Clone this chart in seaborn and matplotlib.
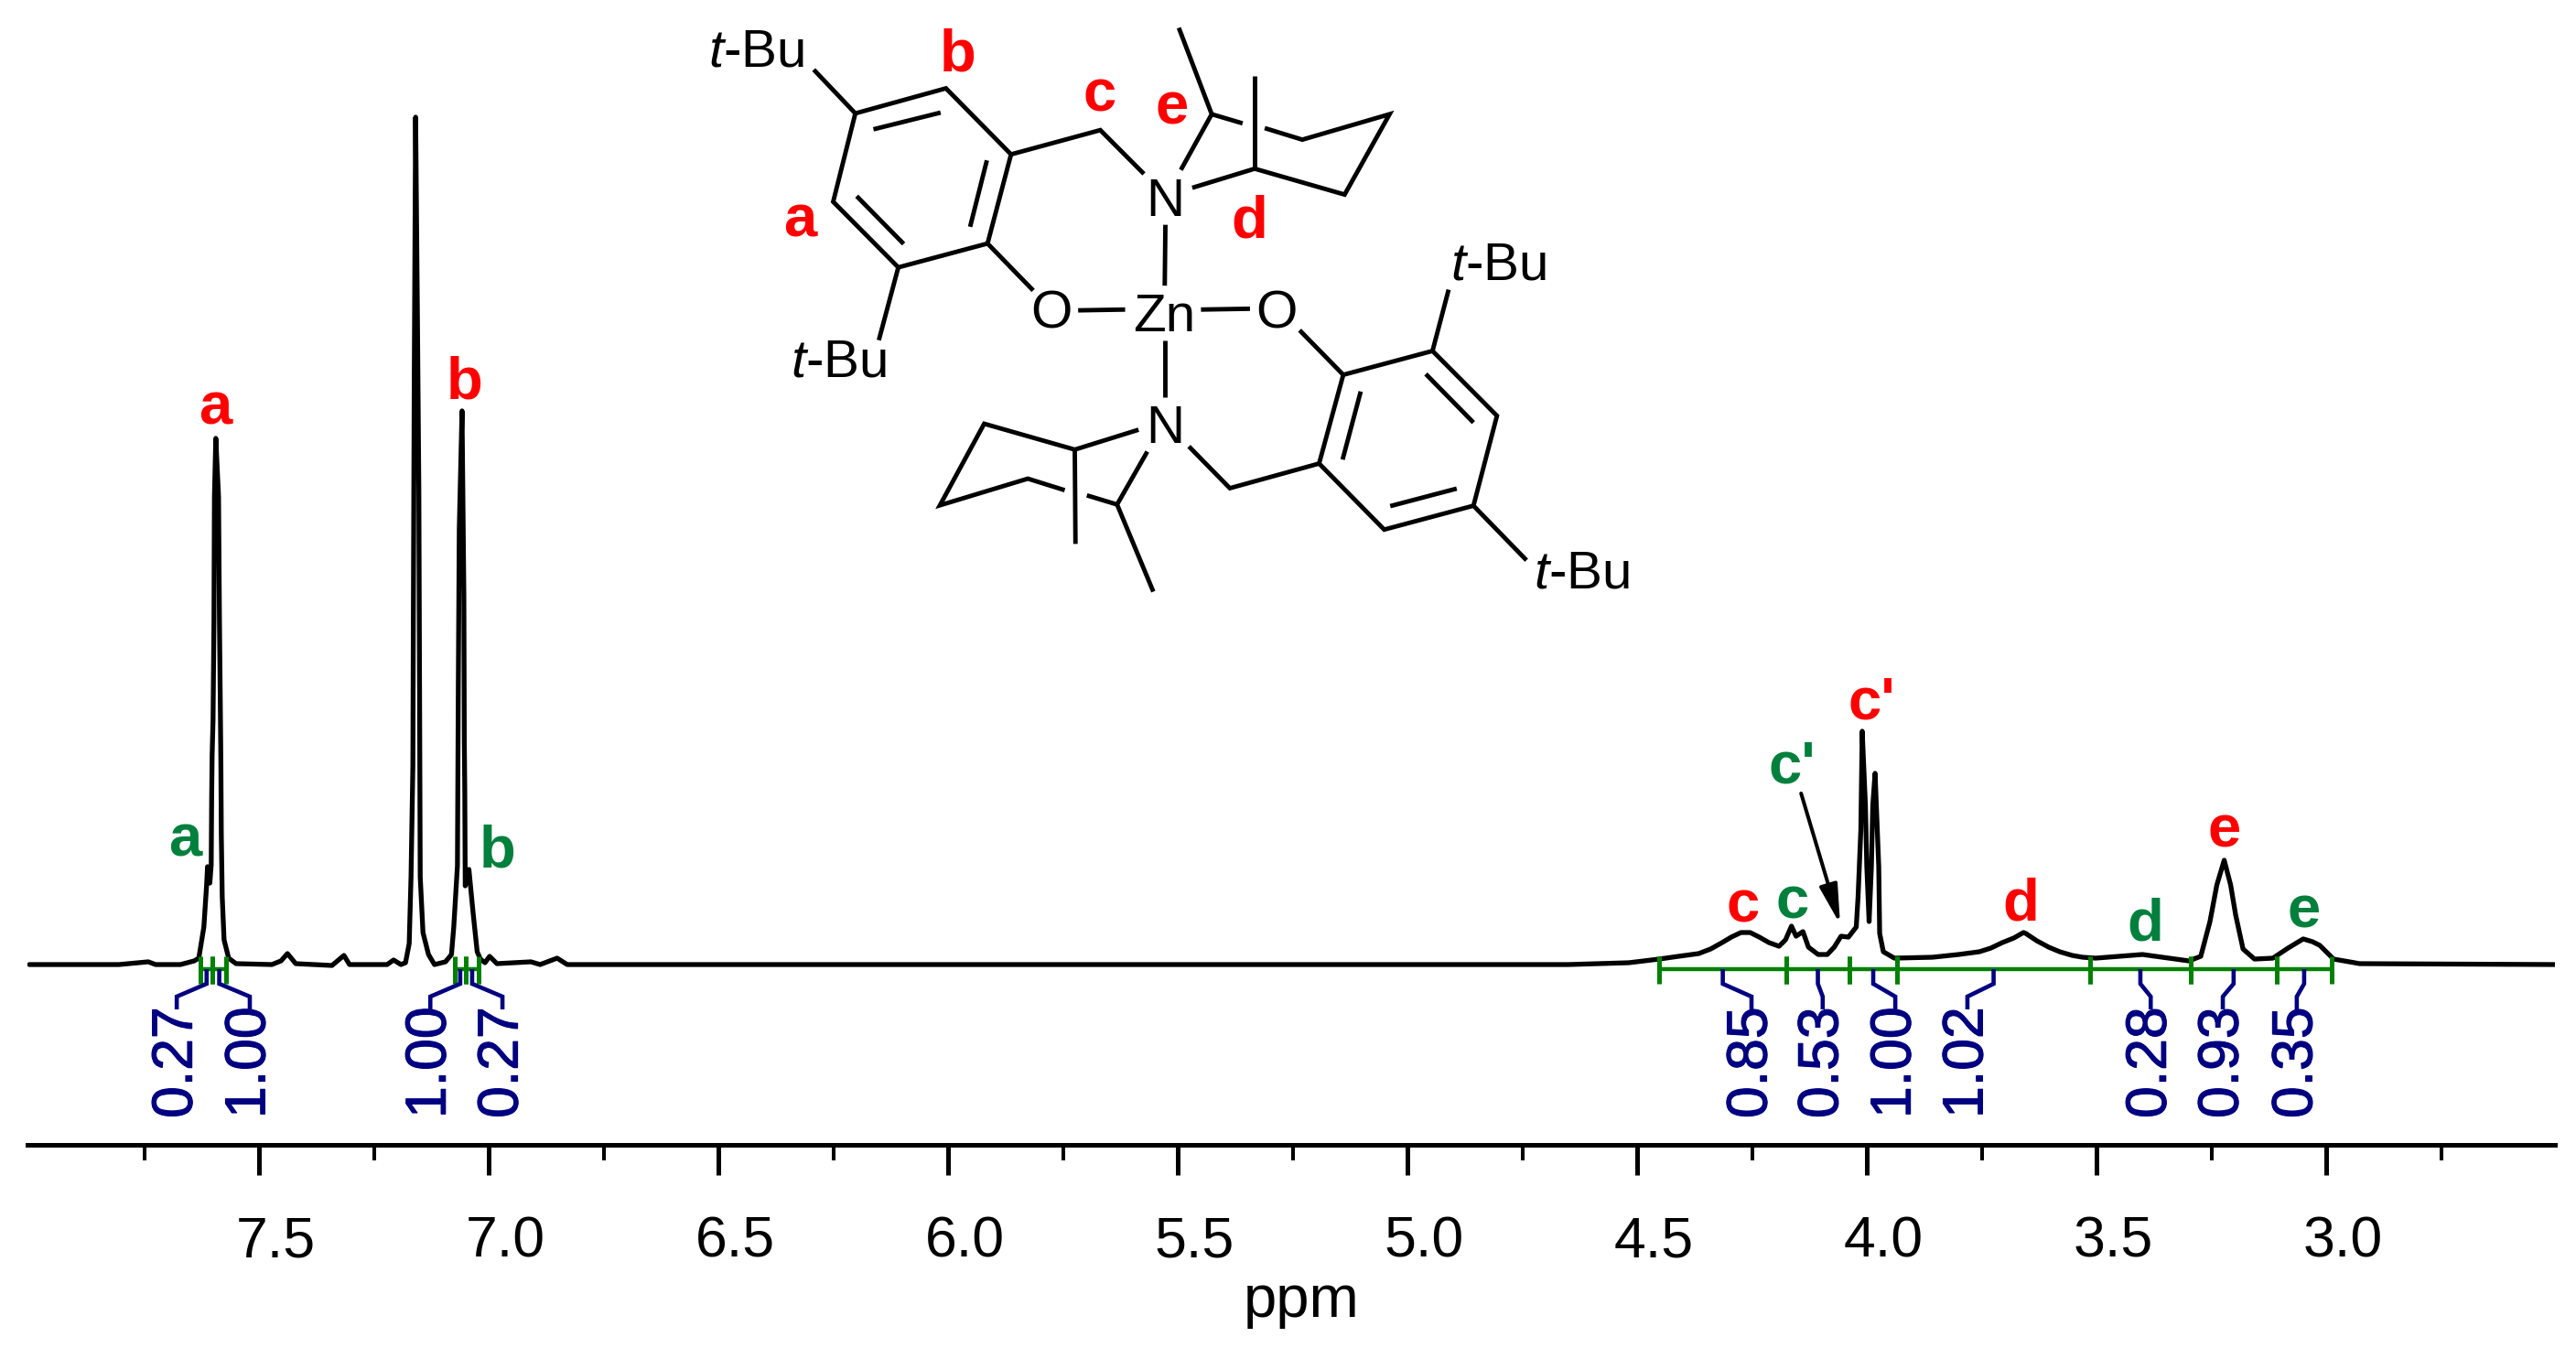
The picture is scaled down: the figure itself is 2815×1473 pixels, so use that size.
#!/usr/bin/env python3
import matplotlib
matplotlib.use('Agg')
import matplotlib.pyplot as plt
import matplotlib.patheffects as pe
from matplotlib.ticker import FixedLocator
from matplotlib.transforms import ScaledTranslation
import pandas as pd
import seaborn as sns

# spectrum
ppm = [8.000, 7.805, 7.741, 7.725, 7.671, 7.641, 7.631, 7.620, 7.614, 7.612, 7.607, 7.604, 7.603, 7.602,
       7.600, 7.598, 7.597, 7.594, 7.588, 7.586, 7.584, 7.583, 7.582, 7.580, 7.576, 7.566, 7.550, 7.472,
       7.452, 7.438, 7.420, 7.341, 7.315, 7.303, 7.221, 7.207, 7.191, 7.181, 7.173, 7.169, 7.165, 7.164,
       7.162, 7.159, 7.155, 7.152, 7.151, 7.150, 7.149, 7.143, 7.131, 7.118, 7.094, 7.081, 7.076, 7.072,
       7.068, 7.066, 7.064, 7.058, 7.054, 7.053, 7.052, 7.051, 7.043, 7.034, 7.025, 7.018, 7.008, 6.998,
       6.982, 6.908, 6.888, 6.851, 6.829, 6.795, 5.673, 5.076, 4.650, 4.518, 4.452, 4.410, 4.366, 4.340, 4.315,
       4.295, 4.274, 4.254, 4.234, 4.213, 4.191, 4.177, 4.164, 4.154, 4.139, 4.127, 4.106, 4.086, 4.071,
       4.056, 4.040, 4.023, 4.019, 4.013, 4.010, 4.003, 4.000, 3.995, 3.990, 3.987, 3.982, 3.974, 3.972,
       3.964, 3.940, 3.857, 3.800, 3.755, 3.730, 3.705, 3.680, 3.659, 3.654, 3.630, 3.604, 3.580, 3.553,
       3.530, 3.502, 3.400, 3.299, 3.273, 3.253, 3.238, 3.222, 3.208, 3.197, 3.181, 3.156, 3.116, 3.083,
       3.050, 3.030, 3.014, 3.000, 2.984, 2.927, 2.502]
intensity = [0, 0, 3, 0, 0, 4, 7, 41, 87, 107, 89, 109, 183, 229,
             267, 375, 511, 575, 511, 375, 267, 224, 142, 74, 27, 7, 1, 0,
             4, 12, 1, -1, 10, 0, 0, 5, 0, 2, 23, 96, 217, 374,
             641, 926, 702, 520, 368, 217, 96, 35, 11, 0, 3, 11, 41, 74,
             108, 311, 476, 605, 404, 243, 190, 86, 104, 57, 14, 6, 2, 9,
             1, 3, 0, 7, 0, 0, 0, 0, 0, 2, 6, 9, 12, 17, 24,
             30, 35, 35, 30, 24, 20, 27, 42, 31, 36, 19, 11, 11, 19,
             31, 30, 41, 74, 147, 255, 174, 107, 47, 107, 174, 209, 107, 34,
             14, 7, 8, 11, 14, 18, 24, 29, 35, 34, 26, 19, 14, 10,
             8, 7, 11, 4, 9, 47, 87, 114, 87, 54, 17, 6, 7, 18,
             28, 25, 21, 14, 6, 1, 0]

# integrals: limits in ppm, value, where the value is written
int_left = [7.627, 7.601, 7.074, 7.050, 4.452, 4.175, 4.038, 3.934, 3.514, 3.295, 3.108]
int_right = [7.601, 7.572, 7.050, 7.022, 4.175, 4.038, 3.934, 3.514, 3.295, 3.108, 2.988]
int_values = ['0.27', '1.00', '1.00', '0.27', '0.85', '0.53', '1.00', '1.02', '0.28', '0.93', '0.35']
int_text_x = [7.679, 7.520, 7.127, 6.970, 4.251, 4.096, 3.938, 3.781, 3.382, 3.225, 3.064]

# peak letters
peak_names = ['a', 'a', 'b', 'b', "c'", "c'", 'c', 'c', 'd', 'd', 'e', 'e']
peak_x = [7.596, 7.661, 7.052, 6.980, 3.990, 4.162, 4.269, 4.162, 3.664, 3.393, 3.222, 3.048]
peak_y = [590, 119, 618, 106, 269, 199, 46, 51, 49, 26, 128, 40]
peak_major = [True, False, True, False, True, False, True, False, True, False, True, False]

major_ticks = [7.5, 7.0, 6.5, 6.0, 5.5, 5.0, 4.5, 4.0, 3.5, 3.0]
minor_ticks = [7.75, 7.25, 6.75, 6.25, 5.75, 5.25, 4.75, 4.25, 3.75, 3.25, 2.75]

# structure drawing, in the coordinates of its own little axes
bonds = [
    [(320, 285), (455, 222), (552, 388), (517, 612), (384, 672), (287, 507), (320, 285)],
    [(347, 325), (447, 283)], [(516, 403), (491, 570)], [(392, 613), (322, 493)],
    [(320, 285), (258, 175)], [(384, 672), (355, 855)],
    [(552, 388), (685, 327), (750, 437)], [(517, 612), (585, 730)],
    [(652, 780), (722, 778)], [(835, 778), (908, 776)],
    [(782, 565), (781, 718)], [(781, 855), (781, 998)],
    [(805, 427), (851, 287), (802, 70)], [(851, 287), (897, 310)],
    [(930, 322), (986, 351), (1116, 287), (1049, 489), (915, 424), (822, 472)],
    [(915, 190), (915, 424)],
    [(1047, 942), (1180, 882), (1276, 1045), (1241, 1271), (1108, 1331), (1011, 1165), (1047, 942)],
    [(1170, 940), (1241, 1062)], [(1216, 1228), (1117, 1272)], [(1046, 1155), (1073, 984)],
    [(1180, 882), (1204, 728)], [(1241, 1271), (1320, 1408)], [(982, 830), (1047, 942)],
    [(1011, 1165), (878, 1227), (817, 1122)],
    [(755, 1135), (710, 1268), (764, 1487)], [(710, 1268), (665, 1245)],
    [(632, 1232), (577, 1203), (446, 1270), (512, 1065), (647, 1130), (742, 1080)],
    [(647, 1130), (648, 1367)],
]
atoms = [('N', 782, 509), ('N', 782, 1079), ('Zn', 780, 797), ('O', 612, 790), ('O', 948, 790),
         ('$\\mathit{t}$-Bu', 172, 133), ('$\\mathit{t}$-Bu', 295, 911),
         ('$\\mathit{t}$-Bu', 1278, 669), ('$\\mathit{t}$-Bu', 1402, 1443)]
atom_tags = [('a', 238, 594), ('b', 473, 179), ('c', 684, 280), ('e', 792, 312), ('d', 907, 596)]

RED = '#ff0000'
TAG_GREEN = '#00803c'
INT_GREEN = '#008000'
NAVY = '#000080'

W, H = 2815, 1473
sns.set_theme(style='white')
plt.rcParams['font.family'] = ['Liberation Sans', 'DejaVu Sans']
plt.rcParams['mathtext.fontset'] = 'custom'
plt.rcParams['mathtext.rm'] = 'Liberation Sans'
plt.rcParams['mathtext.it'] = 'Liberation Sans:italic'

fig = plt.figure(figsize=(W / 100, H / 100), dpi=100)
ax = fig.add_axes([30 / W, (H - 1251) / H, 2762 / W, 1251 / H])

df = pd.DataFrame({'ppm': ppm, 'intensity': intensity})
sns.lineplot(data=df, x='ppm', y='intensity', sort=False, estimator=None, color='black', lw=3.8, ax=ax)

ax.set_xlim(8.004, 2.502)
ax.set_ylim(-197, 1054)
sns.despine(ax=ax, left=True)
ax.spines['bottom'].set_linewidth(3.6)
ax.spines['bottom'].set_color('black')
ax.set_yticks([])
ax.set_ylabel('')
ax.xaxis.set_major_locator(FixedLocator(major_ticks))
ax.xaxis.set_minor_locator(FixedLocator(minor_ticks))
ax.set_xticklabels(['%.1f' % t for t in major_ticks])
ax.tick_params(axis='x', which='major', bottom=True, length=23.8, width=3.6, pad=31, labelsize=45, labelcolor='black', color='black')
ax.tick_params(axis='x', which='minor', bottom=True, length=12.2, width=2.9, color='black')
# the tick labels sit a little to the right of their ticks
for lab in ax.get_xticklabels():
    lab.set_transform(lab.get_transform() + ScaledTranslation(18 / 100, 0, fig.dpi_scale_trans))
ax.set_xlabel('ppm', fontsize=47, color='black')
ax.xaxis.set_label_coords(0.504, -0.1125)

# integrals
for a, b, val, tx in zip(int_left, int_right, int_values, int_text_x):
    mid = (a + b) / 2
    ax.plot([a, b], [-5, -5], color=INT_GREEN, lw=3.2, solid_capstyle='butt')
    ax.plot([a, a], [9, -21], color=INT_GREEN, lw=3.6, solid_capstyle='butt')
    ax.plot([b, b], [9, -21], color=INT_GREEN, lw=3.6, solid_capstyle='butt')
    ax.plot([mid, mid, tx, tx], [-5, -21, -35, -49], color=NAVY, lw=3.3, solid_joinstyle='miter', solid_capstyle='butt')
    ax.text(tx, -107, val, color=NAVY, fontsize=45, rotation=90, ha='center', va='center',
            path_effects=[pe.withStroke(linewidth=0.8, foreground=NAVY)])

# peak letters
for name, px, py, big in zip(peak_names, peak_x, peak_y, peak_major):
    ax.text(px, py, name, color=RED if big else TAG_GREEN, fontsize=47, fontweight='bold', ha='center', va='baseline')

ax.annotate('', xy=(4.058, 44), xytext=(4.143, 187),
            arrowprops=dict(arrowstyle='-|>,head_length=2.6,head_width=0.6', mutation_scale=10,
                            color='black', lw=2.9, shrinkA=0, shrinkB=0))

# structure
mol = fig.add_axes([700 / W, (H - 680) / H, 1150 / W, 680 / H])
mol.set_xlim(0, 1568)
mol.set_ylim(1564, 0)
mol.axis('off')
for bond in bonds:
    mol.plot([p[0] for p in bond], [p[1] for p in bond], color='black', lw=3.5, solid_joinstyle='miter', solid_capstyle='butt')
for s, x, y in atoms:
    mol.text(x, y, s, color='black', fontsize=42, ha='center', va='center')
for s, x, y in atom_tags:
    mol.text(x, y, s, color=RED, fontsize=47, fontweight='bold', ha='center', va='baseline')

fig.savefig('out.png', dpi=100, facecolor='white')
